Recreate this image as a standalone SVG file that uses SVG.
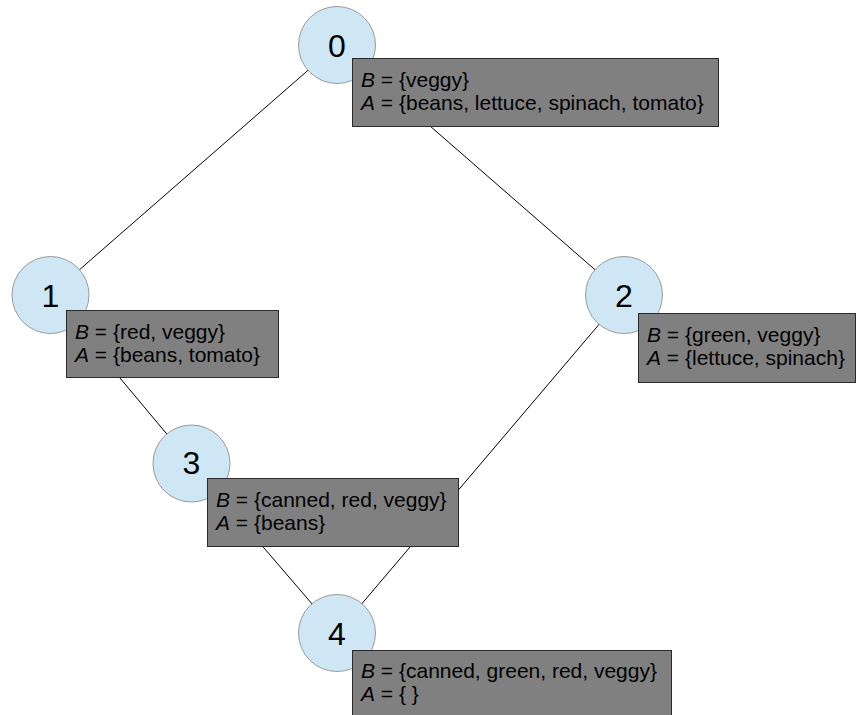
<svg xmlns="http://www.w3.org/2000/svg" width="857" height="715" viewBox="0 0 857 715">
<style>
.edge{stroke:#000;stroke-width:1;fill:none}
.circ{fill:#cfe7f5;stroke:#9a9a9a;stroke-width:1}
.num{font-family:"Liberation Sans",Arial,sans-serif;font-size:32px;fill:#000;text-anchor:middle}
.box{fill:#808080;stroke:#2a2a2a;stroke-width:1}
.lbl{font-family:"Liberation Sans",Arial,sans-serif;font-size:21px;fill:#000}
.it{font-style:italic}
</style>
<rect width="857" height="715" fill="#fff"/>
<g id="connectors">
<line class="edge" x1="337" y1="45" x2="50.5" y2="295"/>
<line class="edge" x1="337" y1="45" x2="624" y2="295"/>
<line class="edge" x1="50.5" y1="295" x2="191.5" y2="463.5"/>
<line class="edge" x1="624" y1="295" x2="337" y2="633"/>
<line class="edge" x1="191.5" y1="463.5" x2="337" y2="633"/>
</g>
<g id="node0">
<circle class="circ" cx="337" cy="45" r="38.5"/>
<text class="num" x="337" y="57">0</text>
<rect class="box" x="352.5" y="58.5" width="366" height="68"/>
<text class="lbl" x="361" y="86.5"><tspan class="it">B</tspan> = {veggy}</text>
<text class="lbl" x="361" y="109.5"><tspan class="it">A</tspan> = {beans, lettuce, spinach, tomato}</text>
</g>
<g id="node1">
<circle class="circ" cx="50.5" cy="295" r="38.5"/>
<text class="num" x="50.5" y="307">1</text>
<rect class="box" x="66.5" y="310.5" width="212" height="67"/>
<text class="lbl" x="75" y="338.5"><tspan class="it">B</tspan> = {red, veggy}</text>
<text class="lbl" x="75" y="361.5"><tspan class="it">A</tspan> = {beans, tomato}</text>
</g>
<g id="node2">
<circle class="circ" cx="624" cy="295" r="38.5"/>
<text class="num" x="624" y="307">2</text>
<rect class="box" x="638.5" y="313.5" width="217" height="69"/>
<text class="lbl" x="647" y="341.5"><tspan class="it">B</tspan> = {green, veggy}</text>
<text class="lbl" x="647" y="364.5"><tspan class="it">A</tspan> = {lettuce, spinach}</text>
</g>
<g id="node3">
<circle class="circ" cx="191.5" cy="463.5" r="38.5"/>
<text class="num" x="191.5" y="474">3</text>
<rect class="box" x="207.5" y="478.5" width="251" height="68"/>
<text class="lbl" x="216" y="506.5"><tspan class="it">B</tspan> = {canned, red, veggy}</text>
<text class="lbl" x="216" y="529.5"><tspan class="it">A</tspan> = {beans}</text>
</g>
<g id="node4">
<circle class="circ" cx="337" cy="633" r="38.5"/>
<text class="num" x="337" y="645">4</text>
<rect class="box" x="352.5" y="650.5" width="319" height="75"/>
<text class="lbl" x="361" y="677.5"><tspan class="it">B</tspan> = {canned, green, red, veggy}</text>
<text class="lbl" x="361" y="700.5"><tspan class="it">A</tspan> = { }</text>
</g>
</svg>
